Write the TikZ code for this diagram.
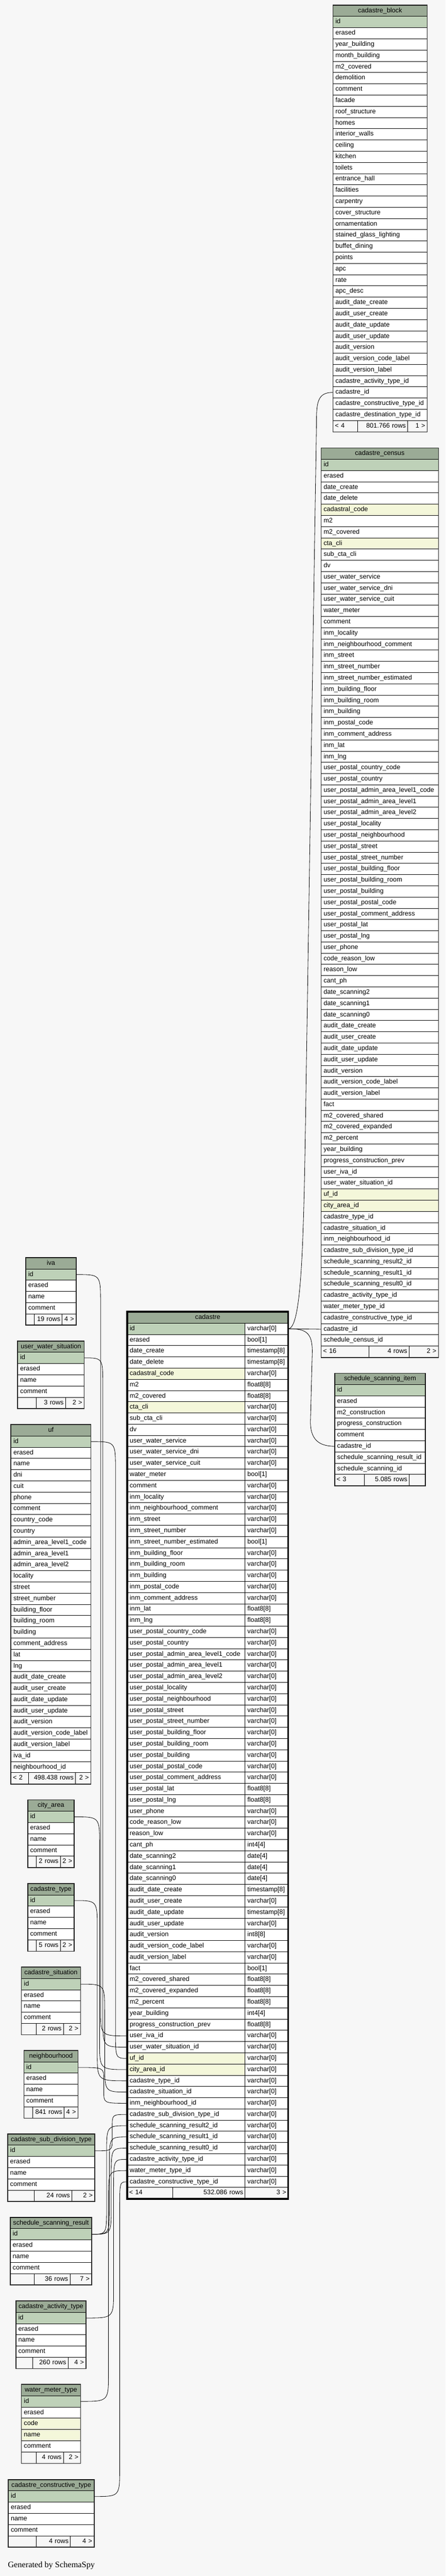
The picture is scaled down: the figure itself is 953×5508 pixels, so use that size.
\documentclass[tikz,border=0pt]{standalone}
\usepackage{fontspec}
\setmainfont{Liberation Sans}
\newfontfamily\creditfont{Liberation Serif}
\usetikzlibrary{calc}
\definecolor{bgGray}{HTML}{F7F7F7}
\definecolor{headGreen}{HTML}{9BAB96}
\definecolor{pkGreen}{HTML}{BED1B8}
\definecolor{idxYellow}{HTML}{F4F7DA}
\newcommand{\tablefont}{\fontsize{14}{16}\selectfont}
% indexed columns (yellow rows)
\newcommand{\markidx}[2]{\expandafter\def\csname hl-#1-#2\endcsname{}}
\markidx{cadastre_census}{cadastral_code}
\markidx{cadastre_census}{cta_cli}
\markidx{cadastre_census}{uf_id}
\markidx{cadastre_census}{city_area_id}
\markidx{cadastre}{cadastral_code}
\markidx{cadastre}{cta_cli}
\markidx{cadastre}{uf_id}
\markidx{cadastre}{city_area_id}
\markidx{water_meter_type}{code}
\markidx{water_meter_type}{name}
% table: name, left x, right x, top y, columns
\newcommand{\dbtable}[5]{%
  \pgfmathsetmacro\colw{#3-#2-10}%
  \node[head, text width=\colw pt] (#1) at (#2,#4) {\detokenize{#1}};
  \foreach \f [count=\i] in {#5} {%
    \def\rowcol{white}%
    \ifcsname hl-#1-\f\endcsname\def\rowcol{idxYellow}\fi
    \ifnum\i=1 \def\rowcol{pkGreen}\fi
    \node[field, fill=\rowcol, text width=\colw pt] (#1-\f) at (#2,#4+24*\i) {\detokenize\expandafter{\f}};
    \xdef\lastrow{\i}%
  }%
  \xdef\lastxl{#2}\xdef\lastxr{#3}\xdef\lasttop{#4}\xdef\lastname{#1}%
}
% footer of the last table: two cell borders, then the three texts
\newcommand{\dbfoot}[5]{%
  \pgfmathsetmacro\footy{\lasttop+24*(\lastrow+1)}%
  \pgfmathsetmacro\footwa{#1-\lastxl-8}%
  \pgfmathsetmacro\footwb{#2-#1-8}%
  \pgfmathsetmacro\footwc{\lastxr-#2-8}%
  \node[foot, align=left, text width=\footwa pt] (\lastname-fl) at (\lastxl,\footy) {\mbox{#3}};
  \node[foot, align=right, text width=\footwb pt] (\lastname-fm) at (#1,\footy) {\mbox{#4}};
  \node[foot, align=right, text width=\footwc pt] (\lastname-fr) at (#2,\footy) {\mbox{#5}};
  \draw[tableframe] (\lastname.north west) rectangle (\lastname-fr.south east);
}
% foreign key line with a vertical run at x = #3
\newcommand{\fk}[3]{%
  \draw[fk] let \p1=(#1.east), \p2=(#2.west),
    \n1={min(60,max(-60,(\y1-\y2)/3))} in
    (#1.east) .. controls (#3,\y1) .. (#3,\y1-\n1) -- (#3,\y2+\n1) .. controls (#3,\y2) .. (#2.west);
}

\begin{document}
\begin{tikzpicture}
  [x=1pt, y=-1pt,
  head/.style ={rectangle, draw=black, line width=0.9pt, fill=headGreen, anchor=north west, align=center, minimum height=24pt, inner xsep=5pt, inner ysep=0pt, text height=10pt, text depth=3pt, font=\tablefont},
  field/.style ={rectangle, draw=black, line width=0.9pt, fill=white, anchor=north west, align=left, minimum height=24pt, inner xsep=5pt, inner ysep=0pt, text height=10pt, text depth=3pt, font=\tablefont},
  foot/.style ={rectangle, draw=black, line width=0.9pt, fill=bgGray, anchor=north west, minimum height=24pt, inner xsep=4pt, inner ysep=0pt, text height=10pt, text depth=3pt, font=\tablefont},
  tableframe/.style ={draw=black!85, line width=1.6pt},
  focusframe/.style ={draw=black, line width=3.5pt},
  fk/.style ={draw=black, line width=0.9pt}]
  \fill[bgGray] (0,0) rectangle (953,5508);
  \useasboundingbox (0,0) rectangle (953,5508);

  \dbtable{cadastre_block}{712}{913}{10.7}{id, erased, year_building, month_building, m2_covered, demolition, comment, facade, roof_structure, homes, interior_walls, ceiling, kitchen, toilets, entrance_hall, facilities, carpentry, cover_structure, ornamentation, stained_glass_lighting, buffet_dining, points, apc, rate, apc_desc, audit_date_create, audit_user_create, audit_date_update, audit_user_update, audit_version, audit_version_code_label, audit_version_label, cadastre_activity_type_id, cadastre_id, cadastre_constructive_type_id, cadastre_destination_type_id}
  \dbfoot{764}{871.7}{< 4}{801.766 rows}{1 >}

  \dbtable{cadastre_census}{686.7}{937}{957.6}{id, erased, date_create, date_delete, cadastral_code, m2, m2_covered, cta_cli, sub_cta_cli, dv, user_water_service, user_water_service_dni, user_water_service_cuit, water_meter, comment, inm_locality, inm_neighbourhood_comment, inm_street, inm_street_number, inm_street_number_estimated, inm_building_floor, inm_building_room, inm_building, inm_postal_code, inm_comment_address, inm_lat, inm_lng, user_postal_country_code, user_postal_country, user_postal_admin_area_level1_code, user_postal_admin_area_level1, user_postal_admin_area_level2, user_postal_locality, user_postal_neighbourhood, user_postal_street, user_postal_street_number, user_postal_building_floor, user_postal_building_room, user_postal_building, user_postal_postal_code, user_postal_comment_address, user_postal_lat, user_postal_lng, user_phone, code_reason_low, reason_low, cant_ph, date_scanning2, date_scanning1, date_scanning0, audit_date_create, audit_user_create, audit_date_update, audit_user_update, audit_version, audit_version_code_label, audit_version_label, fact, m2_covered_shared, m2_covered_expanded, m2_percent, year_building, progress_construction_prev, user_iva_id, user_water_situation_id, uf_id, city_area_id, cadastre_type_id, cadastre_situation_id, inm_neighbourhood_id, cadastre_sub_division_type_id, schedule_scanning_result2_id, schedule_scanning_result1_id, schedule_scanning_result0_id, cadastre_activity_type_id, water_meter_type_id, cadastre_constructive_type_id, cadastre_id, schedule_census_id}
  \dbfoot{789}{874.7}{< 16}{4 rows}{2 >}

  \dbtable{schedule_scanning_item}{715.7}{909.3}{2936}{id, erased, m2_construction, progress_construction, comment, cadastre_id, schedule_scanning_result_id, schedule_scanning_id}
  \dbfoot{779}{875}{< 3}{5.085 rows}{}

  % cadastre, the table in focus, with its column types
  \node[head, text width=333.7pt] (cadastre) at (272,2804.7) {cadastre};
  \foreach \f/\ty [count=\i] in {id/varchar[0], erased/bool[1], date_create/timestamp[8], date_delete/timestamp[8], cadastral_code/varchar[0], m2/float8[8], m2_covered/float8[8], cta_cli/varchar[0], sub_cta_cli/varchar[0], dv/varchar[0], user_water_service/varchar[0], user_water_service_dni/varchar[0], user_water_service_cuit/varchar[0], water_meter/bool[1], comment/varchar[0], inm_locality/varchar[0], inm_neighbourhood_comment/varchar[0], inm_street/varchar[0], inm_street_number/varchar[0], inm_street_number_estimated/bool[1], inm_building_floor/varchar[0], inm_building_room/varchar[0], inm_building/varchar[0], inm_postal_code/varchar[0], inm_comment_address/varchar[0], inm_lat/float8[8], inm_lng/float8[8], user_postal_country_code/varchar[0], user_postal_country/varchar[0], user_postal_admin_area_level1_code/varchar[0], user_postal_admin_area_level1/varchar[0], user_postal_admin_area_level2/varchar[0], user_postal_locality/varchar[0], user_postal_neighbourhood/varchar[0], user_postal_street/varchar[0], user_postal_street_number/varchar[0], user_postal_building_floor/varchar[0], user_postal_building_room/varchar[0], user_postal_building/varchar[0], user_postal_postal_code/varchar[0], user_postal_comment_address/varchar[0], user_postal_lat/float8[8], user_postal_lng/float8[8], user_phone/varchar[0], code_reason_low/varchar[0], reason_low/varchar[0], cant_ph/int4[4], date_scanning2/date[4], date_scanning1/date[4], date_scanning0/date[4], audit_date_create/timestamp[8], audit_user_create/varchar[0], audit_date_update/timestamp[8], audit_user_update/varchar[0], audit_version/int8[8], audit_version_code_label/varchar[0], audit_version_label/varchar[0], fact/bool[1], m2_covered_shared/float8[8], m2_covered_expanded/float8[8], m2_percent/float8[8], year_building/int4[4], progress_construction_prev/float8[8], user_iva_id/varchar[0], user_water_situation_id/varchar[0], uf_id/varchar[0], city_area_id/varchar[0], cadastre_type_id/varchar[0], cadastre_situation_id/varchar[0], inm_neighbourhood_id/varchar[0], cadastre_sub_division_type_id/varchar[0], schedule_scanning_result2_id/varchar[0], schedule_scanning_result1_id/varchar[0], schedule_scanning_result0_id/varchar[0], cadastre_activity_type_id/varchar[0], water_meter_type_id/varchar[0], cadastre_constructive_type_id/varchar[0]} {
    \def\rowcol{white}\ifcsname hl-cadastre-\f\endcsname\def\rowcol{idxYellow}\fi
    \ifnum\i=1 \def\rowcol{pkGreen}\fi
    \node[field, fill=\rowcol, text width=241.7pt] (cadastre-\f) at (272,2804.7+24*\i) {\detokenize\expandafter{\f}};
    \node[field, text width=82pt] (cadastre-\f-t) at (523.7,2804.7+24*\i) {\ty};
    \xdef\lastrow{\i}
  }
  \xdef\lastxl{272}\xdef\lastxr{615.7}\xdef\lasttop{2804.7}\xdef\lastname{cadastre}
  \dbfoot{369}{523.7}{< 14}{532.086 rows}{3 >}
  \draw[focusframe] (cadastre.north west) rectangle (cadastre-fr.south east);

  % lookup tables on the left
  \dbtable{iva}{55}{162}{2688.7}{id, erased, name, comment}
  \dbfoot{72.7}{132.7}{}{19 rows}{4 >}
  \dbtable{user_water_situation}{37.7}{179.3}{2867}{id, erased, name, comment}
  \dbfoot{77}{139.7}{}{3 rows}{2 >}
  \dbtable{uf}{23.3}{193.7}{3045.9}{id, erased, name, dni, cuit, phone, comment, country_code, country, admin_area_level1_code, admin_area_level1, admin_area_level2, locality, street, street_number, building_floor, building_room, building, comment_address, lat, lng, audit_date_create, audit_user_create, audit_date_update, audit_user_update, audit_version, audit_version_code_label, audit_version_label, iva_id, neighbourhood_id}
  \dbfoot{61}{161}{< 2}{498.438 rows}{2 >}
  \dbtable{city_area}{59}{158}{3848.3}{id, erased, name, comment}
  \dbfoot{77}{128.7}{}{2 rows}{2 >}
  \dbtable{cadastre_type}{59}{158}{4027.2}{id, erased, name, comment}
  \dbfoot{77}{128.7}{}{5 rows}{2 >}
  \dbtable{cadastre_situation}{45.7}{171.3}{4206}{id, erased, name, comment}
  \dbfoot{77}{135.3}{}{2 rows}{2 >}
  \dbtable{neighbourhood}{51}{166}{4384.2}{id, erased, name, comment}
  \dbfoot{69}{136.7}{}{841 rows}{4 >}
  \dbtable{cadastre_sub_division_type}{16.3}{202}{4562.4}{id, erased, name, comment}
  \dbfoot{73}{153}{}{24 rows}{2 >}
  \dbtable{schedule_scanning_result}{21.7}{195.3}{4740.8}{id, erased, name, comment}
  \dbfoot{73}{149.3}{}{36 rows}{7 >}
  \dbtable{cadastre_activity_type}{33.7}{183.3}{4919.8}{id, erased, name, comment}
  \dbfoot{69}{145}{}{260 rows}{4 >}
  \dbtable{water_meter_type}{45.7}{171.3}{5098.2}{id, erased, code, name, comment}
  \dbfoot{77}{135.3}{}{4 rows}{2 >}
  \dbtable{cadastre_constructive_type}{17.7}{200.7}{5301.5}{id, erased, name, comment}
  \dbfoot{77}{150.3}{}{4 rows}{4 >}

  % links to cadastre.id
  \draw[fk] (cadastre_block-cadastre_id.west) .. controls (680,838.7) and (677,860) .. (677,900) -- (655,2300) .. controls (650,2620) and (648,2840.7) .. (cadastre-id-t.east);
  \draw[fk] (cadastre-id-t.east) -- (cadastre_census-cadastre_id.west);
  \draw[fk] (cadastre-id-t.east) .. controls (655,2840.7) and (668,2850) .. (668,2890) -- (664,3040) .. controls (664,3085) and (690,3092) .. (schedule_scanning_item-cadastre_id.west);

  % links from cadastre to the lookup tables
  \fk{iva-id}{cadastre-user_iva_id}{215}
  \fk{user_water_situation-id}{cadastre-user_water_situation_id}{220}
  \fk{uf-id}{cadastre-uf_id}{247}
  \fk{city_area-id}{cadastre-city_area_id}{213}
  \fk{cadastre_type-id}{cadastre-cadastre_type_id}{208}
  \fk{cadastre_situation-id}{cadastre-cadastre_situation_id}{224}
  \fk{neighbourhood-id}{cadastre-inm_neighbourhood_id}{222}
  \fk{cadastre_sub_division_type-id}{cadastre-cadastre_sub_division_type_id}{240}
  \fk{schedule_scanning_result-id}{cadastre-schedule_scanning_result2_id}{228}
  \fk{schedule_scanning_result-id}{cadastre-schedule_scanning_result1_id}{234}
  \fk{schedule_scanning_result-id}{cadastre-schedule_scanning_result0_id}{238}
  \fk{cadastre_activity_type-id}{cadastre-cadastre_activity_type_id}{243}
  \fk{water_meter_type-id}{cadastre-water_meter_type_id}{232}
  \fk{cadastre_constructive_type-id}{cadastre-cadastre_constructive_type_id}{256}

  \node[anchor=base west, font=\creditfont\fontsize{18}{20}\selectfont, inner sep=0pt] (credit) at (16.7,5490) {Generated by SchemaSpy};
\end{tikzpicture}
\end{document}
